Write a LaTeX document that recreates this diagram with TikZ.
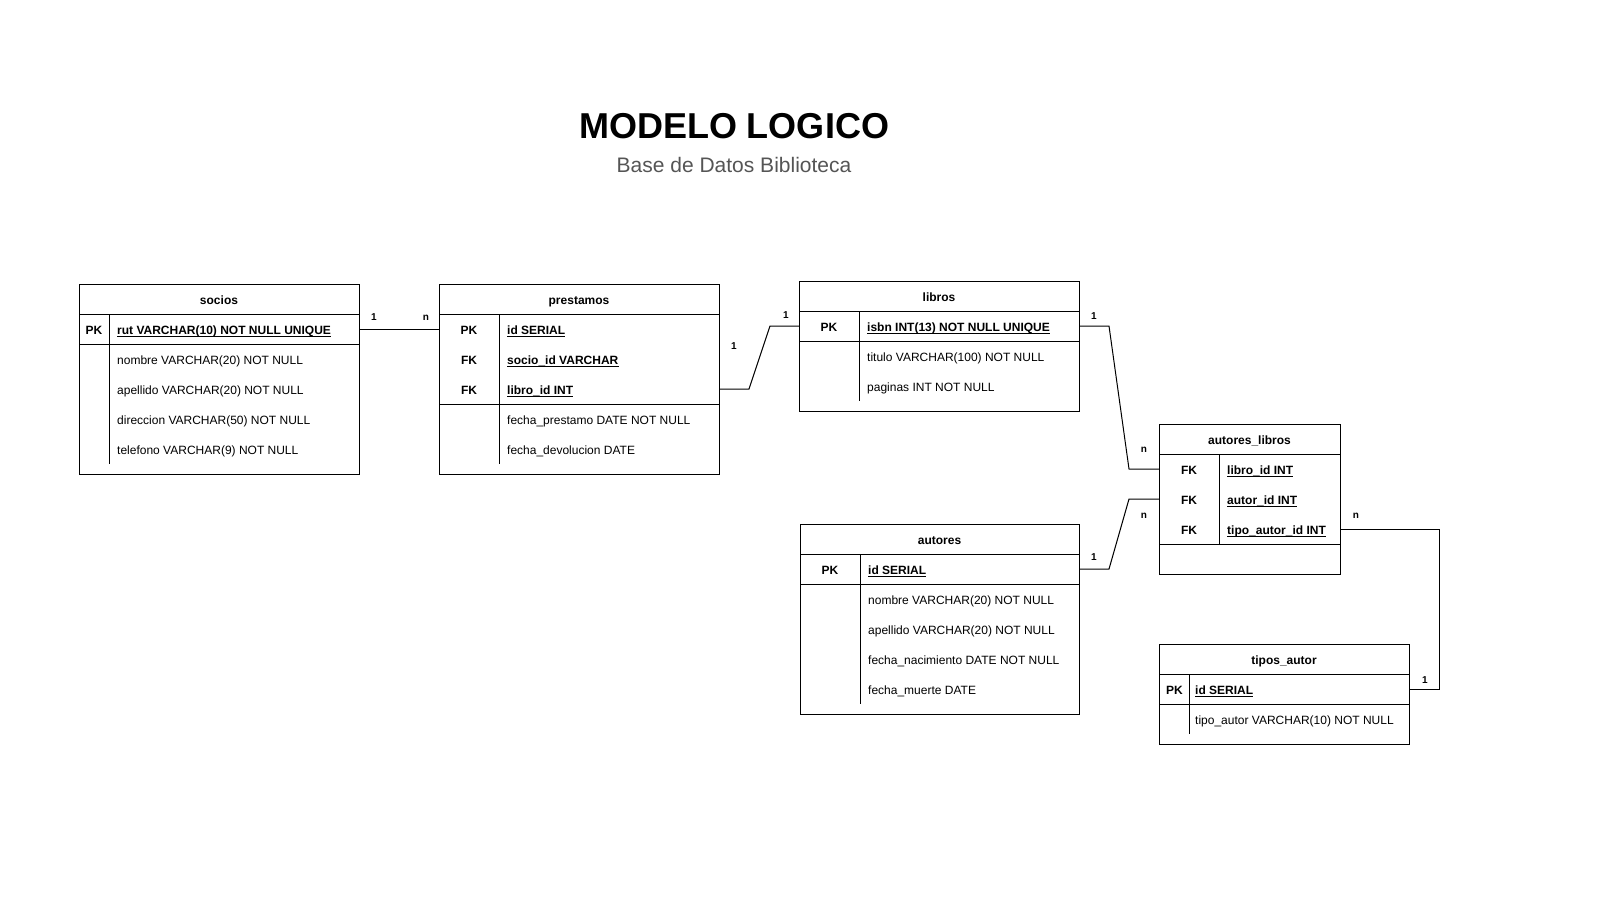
\documentclass[tikz,border=0pt]{standalone}
\usepackage{fontspec}
\setmainfont{Liberation Sans}
\definecolor{subgray}{RGB}{85,85,85}
\tikzset{
  tbl/.style={draw, line width=1pt, inner sep=0pt, anchor=north west},
  fld/.style={anchor=base west, inner sep=0pt, yshift=-1pt, font=\fontsize{12}{14}\selectfont},
  keyfld/.style={anchor=base west, inner sep=0pt, yshift=-1pt, font=\fontsize{12}{14}\selectfont\bfseries},
  keytag/.style={anchor=base, inner sep=0pt, yshift=-1pt, font=\fontsize{12}{14}\selectfont\bfseries},
  hdr/.style={anchor=base, inner sep=0pt, yshift=-1pt, font=\fontsize{12}{14}\selectfont\bfseries},
  card/.style={anchor=base, inner sep=0pt, font=\fontsize{10}{11}\selectfont\bfseries},
  sepline/.style={line width=1pt},
  ulline/.style={line width=0.9pt},
  conn/.style={line width=1pt},
}
\newcommand{\ulnode}[1]{\draw[ulline] ([yshift=-2pt]#1.base west) -- ([yshift=-2pt]#1.base east);}
\begin{document}
\begin{tikzpicture}[x=1pt,y=-1pt]
\fill[white] (0,0) rectangle (1600,900);
\useasboundingbox (0,0) rectangle (1600,900);

% Title
\node[anchor=base, inner sep=0pt, font=\fontsize{36}{40}\selectfont\bfseries] (title) at (734,138) {MODELO LOGICO};
\node[anchor=base, inner sep=0pt, font=\fontsize{21}{24}\selectfont, text=subgray] (subtitle) at (734,172) {Base de Datos Biblioteca};

% ---------------- socios ----------------
\node[tbl, minimum width=280pt, minimum height=190pt] (socios) at (79,284) {};
\draw[sepline] (79,314) -- (359,314);
\draw[sepline] (79,344) -- (359,344);
\draw[sepline] (109,314) -- (109,464);
\node[hdr] (socios-h) at (219,303) {socios};
\node[keytag] (socios-pk) at (94,333) {PK};
\node[keyfld] (socios-rut) at (117,333) {rut VARCHAR(10) NOT NULL UNIQUE};
\ulnode{socios-rut}
\node[fld] (socios-nombre) at (117,363) {nombre VARCHAR(20) NOT NULL};
\node[fld] (socios-apellido) at (117,393) {apellido VARCHAR(20) NOT NULL};
\node[fld] (socios-direccion) at (117,423) {direccion VARCHAR(50) NOT NULL};
\node[fld] (socios-telefono) at (117,453) {telefono VARCHAR(9) NOT NULL};

% ---------------- prestamos ----------------
\node[tbl, minimum width=280pt, minimum height=190pt] (prestamos) at (439,284) {};
\draw[sepline] (439,314) -- (719,314);
\draw[sepline] (439,404) -- (719,404);
\draw[sepline] (499.5,314) -- (499.5,464);
\node[hdr] (prestamos-h) at (579,303) {prestamos};
\node[keytag] (prestamos-pk) at (469,333) {PK};
\node[keytag] (prestamos-fk1) at (469,363) {FK};
\node[keytag] (prestamos-fk2) at (469,393) {FK};
\node[keyfld] (prestamos-id) at (507,333) {id SERIAL};
\ulnode{prestamos-id}
\node[keyfld] (prestamos-socio) at (507,363) {socio\_id VARCHAR};
\ulnode{prestamos-socio}
\node[keyfld] (prestamos-libro) at (507,393) {libro\_id INT};
\ulnode{prestamos-libro}
\node[fld] (prestamos-fp) at (507,423) {fecha\_prestamo DATE NOT NULL};
\node[fld] (prestamos-fd) at (507,453) {fecha\_devolucion DATE};

% ---------------- libros ----------------
\node[tbl, minimum width=280pt, minimum height=130pt] (libros) at (799,281) {};
\draw[sepline] (799,311) -- (1079,311);
\draw[sepline] (799,341) -- (1079,341);
\draw[sepline] (859,311) -- (859,401);
\node[hdr] (libros-h) at (939,300) {libros};
\node[keytag] (libros-pk) at (829,330) {PK};
\node[keyfld] (libros-isbn) at (867,330) {isbn INT(13) NOT NULL UNIQUE};
\ulnode{libros-isbn}
\node[fld] (libros-titulo) at (867,360) {titulo VARCHAR(100) NOT NULL};
\node[fld] (libros-paginas) at (867,390) {paginas INT NOT NULL};

% ---------------- autores ----------------
\node[tbl, minimum width=279pt, minimum height=190pt] (autores) at (800,524) {};
\draw[sepline] (800,554) -- (1079,554);
\draw[sepline] (800,584) -- (1079,584);
\draw[sepline] (860,554) -- (860,704);
\node[hdr] (autores-h) at (939.5,543) {autores};
\node[keytag] (autores-pk) at (830,573) {PK};
\node[keyfld] (autores-id) at (868,573) {id SERIAL};
\ulnode{autores-id}
\node[fld] (autores-nombre) at (868,603) {nombre VARCHAR(20) NOT NULL};
\node[fld] (autores-apellido) at (868,633) {apellido VARCHAR(20) NOT NULL};
\node[fld] (autores-fn) at (868,663) {fecha\_nacimiento DATE NOT NULL};
\node[fld] (autores-fm) at (868,693) {fecha\_muerte DATE};

% ---------------- autores_libros ----------------
\node[tbl, minimum width=181pt, minimum height=150pt] (al) at (1159,424) {};
\draw[sepline] (1159,454) -- (1340,454);
\draw[sepline] (1159,544) -- (1340,544);
\draw[sepline] (1219,454) -- (1219,544);
\node[hdr] (al-h) at (1249.5,443) {autores\_libros};
\node[keytag] (al-fk1) at (1189,473) {FK};
\node[keytag] (al-fk2) at (1189,503) {FK};
\node[keytag] (al-fk3) at (1189,533) {FK};
\node[keyfld] (al-libro) at (1227,473) {libro\_id INT};
\ulnode{al-libro}
\node[keyfld] (al-autor) at (1227,503) {autor\_id INT};
\ulnode{al-autor}
\node[keyfld] (al-tipo) at (1227,533) {tipo\_autor\_id INT};
\ulnode{al-tipo}

% ---------------- tipos_autor ----------------
\node[tbl, minimum width=250pt, minimum height=100pt] (ta) at (1159,644) {};
\draw[sepline] (1159,674) -- (1409,674);
\draw[sepline] (1159,704) -- (1409,704);
\draw[sepline] (1189,674) -- (1189,734);
\node[hdr] (ta-h) at (1284,663) {tipos\_autor};
\node[keytag] (ta-pk) at (1174.5,693) {PK};
\node[keyfld] (ta-id) at (1195,693) {id SERIAL};
\ulnode{ta-id}
\node[fld] (ta-tipo) at (1195,723) {tipo\_autor VARCHAR(10) NOT NULL};

% ---------------- connectors ----------------
\coordinate (k0) at (400,329);
\coordinate (k1) at (749,389);
\coordinate (k2) at (770,326);
\coordinate (k3) at (1109,326);
\coordinate (k4) at (1129,469);
\coordinate (k5) at (1109,569);
\coordinate (k6) at (1129,499);
\coordinate (k7) at (1439,529);
\coordinate (k8) at (1439,689);

\draw[conn] (socios.east |- k0) -- (prestamos.west |- k0);
\draw[conn] (prestamos.east |- k1) -- (k1) -- (k2) -- (libros.west |- k2);
\draw[conn] (libros.east |- k3) -- (k3) -- (k4) -- (al.west |- k4);
\draw[conn] (autores.east |- k5) -- (k5) -- (k6) -- (al.west |- k6);
\draw[conn] (al.east |- k7) -- (k7) -- (k8) -- (ta.east |- k8);

% cardinalities
\node[card] (c1) at (374,320) {1};
\node[card] (c2) at (426,320) {n};
\node[card] (c3) at (734,349) {1};
\node[card] (c4) at (786,318) {1};
\node[card] (c5) at (1094,319) {1};
\node[card] (c6) at (1144,452) {n};
\node[card] (c7) at (1094,560) {1};
\node[card] (c8) at (1144,518) {n};
\node[card] (c9) at (1356,518) {n};
\node[card] (c10) at (1425,683) {1};
\end{tikzpicture}
\end{document}
